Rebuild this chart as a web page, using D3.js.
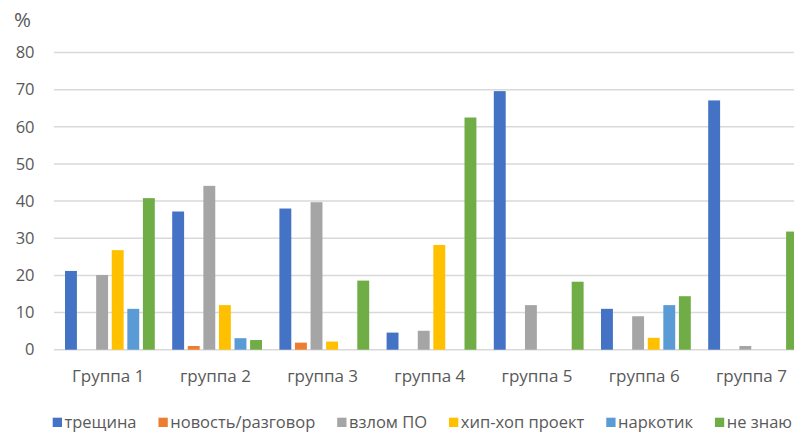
<!DOCTYPE html>
<html>
<head>
<meta charset="utf-8">
<script src="https://cdn.jsdelivr.net/npm/d3@7"></script>
<style>
  html, body { margin: 0; padding: 0; background: #fff; }
  svg { display: block; }
  text { font-family: "Open Sans", "Noto Sans", sans-serif; fill: #595959; }
</style>
</head>
<body>
<div id="chart"></div>
<script>
const categories = ["Группа 1", "группа 2", "группа 3", "группа 4", "группа 5", "группа 6", "группа 7"];
const seriesNames = ["трещина", "новость/разговор", "взлом ПО", "хип-хоп проект", "наркотик", "не знаю"];
const treshchina = [21.2, 37.2, 38.0, 4.6, 69.6, 11.0, 67.1];
const novost     = [0, 1.0, 1.9, 0, 0, 0, 0];
const vzlom      = [20.1, 44.1, 39.7, 5.1, 12.0, 9.0, 1.0];
const hiphop     = [26.8, 12.0, 2.2, 28.2, 0, 3.2, 0];
const narkotik   = [11.0, 3.1, 0, 0, 0, 12.0, 0];
const neZnayu    = [40.8, 2.6, 18.6, 62.5, 18.3, 14.4, 31.8];
const yTicks = [0, 10, 20, 30, 40, 50, 60, 70, 80];
const colors = ["#4472C4", "#ED7D31", "#A5A5A5", "#FFC000", "#5B9BD5", "#70AD47"];

const seriesValues = [treshchina, novost, vzlom, hiphop, narkotik, neZnayu];
const W = 794, H = 432;
const svg = d3.select("#chart").append("svg").attr("width", W).attr("height", H);

const x0 = d3.scaleBand().domain(categories).range([54.6, 805]).paddingInner(0).paddingOuter(0);
const innerPad = 10.4;
const x1 = d3.scaleBand().domain(seriesNames)
  .range([innerPad, x0.bandwidth() - innerPad + 3.4])
  .paddingInner(3.4 / 14.4).paddingOuter(0);
const y = d3.scaleLinear().domain([0, 80]).range([349.7, 52.5]);

// gridlines
svg.append("g").selectAll("line").data(yTicks).join("line")
  .attr("x1", 54).attr("x2", 805)
  .attr("y1", d => y(d)).attr("y2", d => y(d))
  .attr("stroke", "#D9D9D9").attr("stroke-width", 1.5);

// y axis labels
const yAxis = d3.axisLeft(y).tickValues(yTicks).tickSize(0).tickPadding(0);
const yg = svg.append("g").attr("transform", "translate(34.5,0)").call(yAxis);
yg.select(".domain").remove();
yg.selectAll("text").style("font-size", "16.5px").attr("fill", "#595959")
  .style("font-family", '"Open Sans", sans-serif');

svg.append("text").attr("x", 14).attr("y", 26.5).style("font-size", "20.5px").text("%");

// bars
const groups = svg.append("g").selectAll("g").data(categories).join("g")
  .attr("transform", d => `translate(${x0(d)},0)`);
groups.selectAll("rect")
  .data((c, ci) => seriesNames.map((s, si) => ({ s, si, v: seriesValues[si][ci] })))
  .join("rect")
  .filter(d => d.v > 0)
  .attr("x", d => x1(d.s))
  .attr("width", x1.bandwidth())
  .attr("y", d => y(d.v))
  .attr("height", d => y(0) - y(d.v))
  .attr("fill", d => colors[d.si]);

// x axis labels
const xAxis = d3.axisBottom(x0).tickSize(0).tickPadding(0);
const xg = svg.append("g").attr("transform", "translate(0,370)").call(xAxis);
xg.select(".domain").remove();
xg.selectAll("text").style("font-size", "17px").attr("fill", "#595959")
  .style("font-family", '"Open Sans", sans-serif');

// legend: laid out from measured text widths, spanning the reference extent
const legStart = 52.7, legEnd = 792, sq = 9.3, sqGap = 2.5;
const lg = svg.append("g").selectAll("g").data(seriesNames).join("g");
lg.append("rect").attr("x", 0).attr("y", 417.7).attr("width", sq).attr("height", sq)
  .attr("fill", (d, i) => colors[i]);
const lt = lg.append("text").attr("x", sq + sqGap).attr("y", 428).style("font-size", "16.5px").text(d => d);
const widths = lt.nodes().map(n => n.getComputedTextLength());
const itemW = widths.map(w => sq + sqGap + w);
const gap = (legEnd - legStart - d3.sum(itemW)) / (seriesNames.length - 1);
let cx = legStart;
const offs = itemW.map(w => { const o = cx; cx += w + gap; return o; });
lg.attr("transform", (d, i) => `translate(${offs[i]},0)`);
</script>
</body>
</html>
